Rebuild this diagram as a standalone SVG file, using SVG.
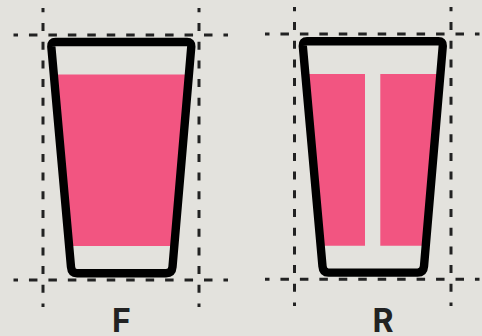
<svg xmlns="http://www.w3.org/2000/svg" width="482" height="336" viewBox="0 0 482 336">
<style>
.h{stroke:#222;stroke-width:3;stroke-dasharray:8.5 10.95;stroke-dashoffset:4;fill:none}
.v{stroke:#222;stroke-width:3;stroke-dasharray:8 10.7;stroke-dashoffset:3.7;fill:none}
.c{fill:none;stroke:#000;stroke-width:8.4;stroke-linejoin:round}
.p{fill:#f25581}
.l{font-family:Inter,"Liberation Sans",sans-serif;font-weight:700;font-size:32px;fill:#222;text-anchor:middle}
</style>
<rect width="482" height="336" fill="#e3e2dd"/>
<g id="front">
<path class="p" d="M54 74.5H188.8L174.3 246H68.7Z"/>
<path class="h" d="M13.5 35H228M13.5 280H228"/>
<path class="v" d="M43 8V307M199 8V307"/>
<path class="c" d="M55.5 42H187Q191.6 42 191.3 46.5L172.5 267Q172 273.3 166 273.3H77Q71.5 273.3 71 267L51.3 46.5Q51 42 55.5 42Z"/>
<text class="l" x="121.5" y="332.3">F</text>
</g>
<g id="rear">
<path class="p" d="M305.5 74H365V245.7H320.2ZM380.3 74H440.3L425.8 245.7H380.3Z"/>
<path class="h" d="M265 34H479.5M265 279.3H479.5"/>
<path class="v" d="M294.5 7V306M451 7V306"/>
<path class="c" d="M307 41.3H438.5Q443.1 41.3 442.8 45.8L424 266.3Q423.5 272.6 417.5 272.6H328.5Q323 272.6 322.5 266.3L302.8 45.8Q302.5 41.3 307 41.3Z"/>
<text class="l" x="383" y="332.3">R</text>
</g>
</svg>
